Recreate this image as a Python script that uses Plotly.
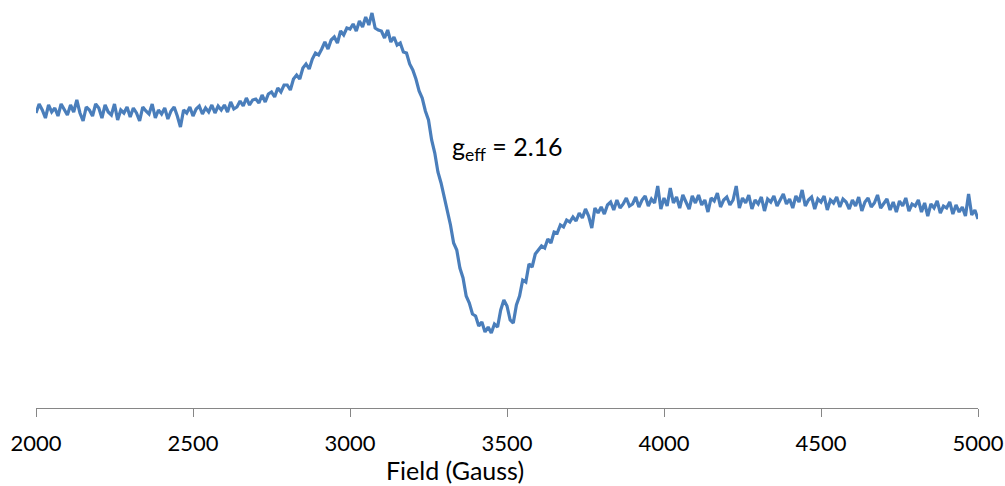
import plotly.graph_objects as go

# Magnetic field sweep, 10 G steps from 2000 to 5000 G
field_start = 2000
field_step = 10

# EPR derivative signal (arbitrary units), one row per 100 G
signal_rows = [
    [97, 106, 100, 92, 105, 98, 102, 94, 106, 100],            # 2000
    [95, 105, 98, 110, 97, 89, 103, 100, 94, 106],             # 2100
    [102, 92, 105, 98, 95, 106, 90, 100, 97, 103],             # 2200
    [93, 102, 97, 89, 103, 99, 96, 106, 92, 100],              # 2300
    [96, 102, 91, 99, 103, 94, 83, 100, 97, 103],              # 2400
    [94, 101, 104, 96, 102, 98, 105, 97, 104, 100],            # 2500
    [105, 98, 108, 101, 103, 109, 104, 112, 105, 110],         # 2600
    [111, 107, 115, 108, 116, 118, 113, 122, 118, 125],        # 2700
    [125, 120, 131, 135, 131, 142, 146, 141, 151, 157],        # 2800
    [155, 161, 168, 161, 170, 173, 167, 179, 175, 182],        # 2900
    [181, 186, 179, 189, 183, 193, 185, 197, 182, 180],        # 3000
    [179, 172, 180, 168, 173, 165, 167, 158, 157, 146],        # 3100
    [140, 131, 119, 112, 99, 90, 70, 57, 38, 27],              # 3200
    [13, -4, -15, -33, -40, -58, -68, -86, -93, -104],         # 3300
    [-106, -116, -112, -122, -117, -123, -114, -117, -100, -90],  # 3400
    [-96, -110, -113, -95, -86, -70, -72, -54, -57, -44],      # 3500
    [-40, -36, -38, -29, -33, -22, -23, -15, -17, -10],        # 3600
    [-12, -7, -11, -3, -8, 1, -6, -18, 2, -3],                 # 3700
    [3, -4, 5, 8, 0, 10, 2, 6, 12, 4],                         # 3800
    [6, 13, 3, 10, 14, 4, 11, 7, 24, 1],                       # 3900
    [12, 4, 22, 7, 13, 2, 15, 8, 1, 14],                       # 4000
    [7, 15, 5, 10, -2, 12, 9, 17, 3, 10],                      # 4100
    [13, 5, 10, 24, 2, 12, 7, 15, 1, 10],                      # 4200
    [6, 13, -1, 11, 8, 14, 4, 10, 16, 6],                      # 4300
    [11, 2, 14, 8, 20, 4, 10, 13, 1, 11],                      # 4400
    [8, 14, 0, 10, 7, 13, 3, 11, 8, 1],                        # 4500
    [10, 4, 13, -1, 8, 12, 3, 7, 15, 2],                       # 4600
    [6, 11, 0, 8, -2, 9, 4, 12, -1, 6],                        # 4700
    [4, 10, -2, 7, -6, 6, 2, 9, -3, 4],                        # 4800
    [2, 8, -4, 5, -2, 3, -6, 16, -5, 0],                       # 4900
    [-9],                                                      # 5000
]

x_ticks = [2000, 2500, 3000, 3500, 4000, 4500, 5000]
x_title = "Field (Gauss)"
g_label = "g<sub>eff</sub> = 2.16"

signal = [v for row in signal_rows for v in row]
field = [field_start + field_step * i for i in range(len(signal))]

FONT = "Lato, Carlito, Calibri, sans-serif"

fig = go.Figure()
fig.add_trace(go.Scatter(
    x=field, y=signal, mode="lines",
    line=dict(color="#4A7EBB", width=3.2),
    hoverinfo="x+y", showlegend=False,
))

fig.add_annotation(
    x=3320, y=62, xref="x", yref="y",
    text=g_label, showarrow=False,
    xanchor="left", yanchor="middle",
    font=dict(family=FONT, size=25, color="#000000"),
)

fig.add_annotation(
    x=0.4448, y=-0.156, xref="paper", yref="paper",
    text=x_title, showarrow=False,
    xanchor="center", yanchor="middle",
    font=dict(family=FONT, size=25, color="#000000"),
)

fig.update_layout(
    width=1005, height=486,
    margin=dict(l=36, r=27, t=10, b=78),
    paper_bgcolor="white", plot_bgcolor="white",
    font=dict(family=FONT, size=22, color="#000000"),
)

fig.update_xaxes(
    range=[2000, 5000],
    automargin=False,
    tickvals=x_ticks,
    ticktext=[str(t) for t in x_ticks],
    showline=True, linecolor="#868686", linewidth=1,
    ticks="outside", ticklen=8, tickcolor="#868686", tickwidth=1,
    showgrid=False, zeroline=False,
    tickfont=dict(family=FONT, size=22, color="#000000"),
    ticklabelstandoff=8,
)
fig.update_yaxes(
    range=[-198, 200],
    automargin=False,
    visible=False, showgrid=False, zeroline=False,
)

fig.write_html("out.html")
